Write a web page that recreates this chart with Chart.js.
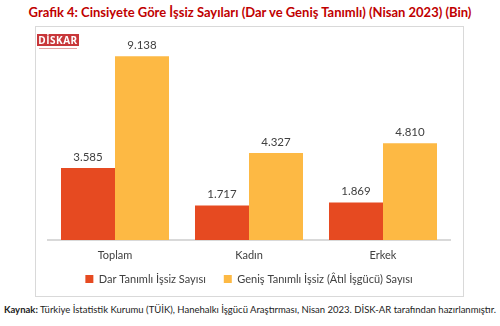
<!DOCTYPE html>
<html>
<head>
<meta charset="utf-8">
<script src="https://cdn.jsdelivr.net/npm/chart.js@4.4.0/dist/chart.umd.min.js"></script>
<style>
  body { margin: 0; background: #fff; width: 500px; height: 326px; position: relative; overflow: hidden; font-family: Lato, "Open Sans", sans-serif; }
  #title { position: absolute; left: 0; top: 4px; width: 500px; text-align: center; color: #c00000; font-weight: bold; font-size: 13px; white-space: nowrap; }
  #frame { position: absolute; left: 35px; top: 26px; width: 427px; height: 269px; border: 1px solid #d9d9d9; }
  #logo { position: absolute; left: 1px; top: 7px; width: 42px; height: 12px; background: #c8373a; color: #fff; font: bold 10px "Open Sans", sans-serif; line-height: 12px; text-align: center; letter-spacing: 0.5px; }
  #logoline { position: absolute; left: 3px; top: 21px; width: 38px; height: 1px; background: #e3a0a0; }
  #box { position: absolute; left: 0; top: 0; width: 427px; height: 276px; }
  #source { position: absolute; left: 0; top: 304px; width: 500px; text-align: center; font-size: 9.5px; color: #222; white-space: nowrap; }
</style>
</head>
<body>
<div id="title">Grafik 4: Cinsiyete Göre İşsiz Sayıları (Dar ve Geniş Tanımlı) (Nisan 2023) (Bin)</div>
<div id="frame">
  <div id="box"><canvas id="chart"></canvas></div>
  <div id="logo">DİSKAR</div>
  <div id="logoline"></div>
</div>
<div id="source"><b>Kaynak:</b> Türkiye İstatistik Kurumu (TÜİK), Hanehalkı İşgücü Araştırması, Nisan 2023. DİSK-AR tarafından hazırlanmıştır.</div>
<script>
// values in thousands (bin)
let categories = ["Toplam", "Kadın", "Erkek"];
let darTanimli = [3585, 1717, 1869];
let genisTanimli = [9138, 4327, 4810];
let seriesNames = ["Dar Tanımlı İşsiz Sayısı", "Geniş Tanımlı İşsiz (Âtıl İşgücü) Sayısı"];

function trFormat(v)
{
    return String(v).replace(/\B(?=(\d{3})+(?!\d))/g, ".");
}

// numbers above the bars
let valueLabels = {
    id: "valueLabels",
    afterDatasetsDraw(chart)
    {
        let ctx = chart.ctx;
        ctx.save();
        ctx.font = "11.5px Lato";
        ctx.fillStyle = "#404040";
        ctx.textAlign = "center";
        ctx.textBaseline = "bottom";
        chart.data.datasets.forEach(function(ds, i)
        {
            chart.getDatasetMeta(i).data.forEach(function(bar, j)
            {
                ctx.fillText(trFormat(ds.data[j]), bar.x, bar.y - 5);
            });
        });
        ctx.restore();
    }
};

// pull the legend a bit closer to the category labels
let legendUp = {
    id: "legendUp",
    afterLayout(chart)
    {
        chart.legend.top -= 8.5;
        chart.legend.bottom -= 8.5;
    }
};

let myChart = document.getElementById("chart").getContext("2d");
let display = new Chart(myChart,
{
    type: "bar",
    data:
    {
        labels: categories,
        datasets: [
            {
                label: seriesNames[0],
                data: darTanimli,
                backgroundColor: "#e64a21"
            },
            {
                label: seriesNames[1],
                data: genisTanimli,
                backgroundColor: "#fdb944"
            }
        ]
    },
    options:
    {
        responsive: true,
        maintainAspectRatio: false,
        animation: false,
        layout: { padding: { top: 12, left: 12, right: 13, bottom: 0 } },
        datasets: { bar: { categoryPercentage: 0.806, barPercentage: 1 } },
        scales:
        {
            x:
            {
                grid: { display: false, drawTicks: false },
                border: { display: true, color: "#d9d9d9", width: 2 },
                ticks: { color: "#404040", font: { family: "Lato", size: 11 }, padding: 9 },
                afterFit: function(scale) { scale.height = 24; }
            },
            y: { display: false, min: 0, max: 10000 }
        },
        plugins:
        {
            legend:
            {
                position: "bottom",
                labels: { boxWidth: 8, boxHeight: 8, color: "#404040", font: { family: "Lato", size: 11 }, padding: 18 }
            },
            tooltip: { enabled: false }
        }
    },
    plugins: [valueLabels, legendUp]
});
</script>
</body>
</html>
